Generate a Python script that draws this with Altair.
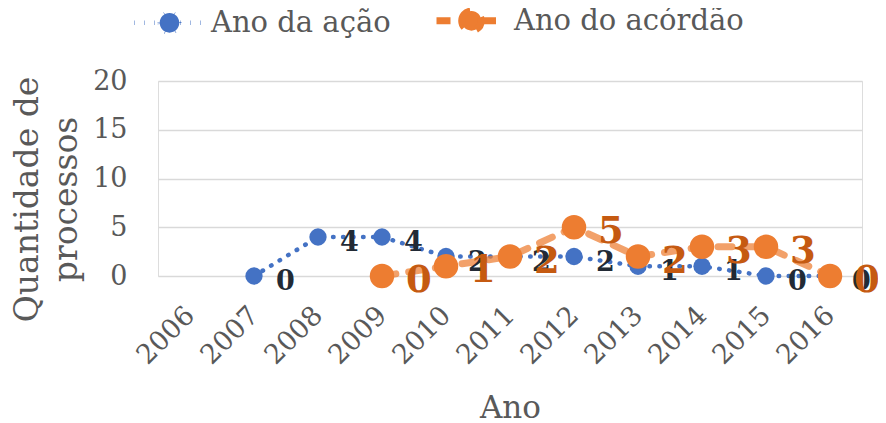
import altair as alt
import pandas as pd

# ---- data ----
anos = ["2006", "2007", "2008", "2009", "2010", "2011", "2012", "2013", "2014", "2015", "2016"]
serie_nomes = ["Ano da ação", "Ano do acórdão"]
ano_da_acao = [None, 0, 4, 4, 2, 2, 2, 1, 1, 0, 0]
ano_do_acordao = [None, None, None, 0, 1, 2, 5, 2, 3, 3, 0]
y_ticks = [0, 5, 10, 15, 20]

rows = []
for nome, vals in zip(serie_nomes, [ano_da_acao, ano_do_acordao]):
    for a, v in zip(anos, vals):
        if v is not None:
            rows.append({"ano": a, "serie": nome, "valor": v})
df = pd.DataFrame(rows)

FONT = "DejaVu Serif"
GREY = "#595959"
LEG_PATH = ("M-1,0L-0.3,0M0.3,0L1,0"
            "M-0.28,0A0.28,0.28,0,1,1,0.28,0A0.28,0.28,0,1,1,-0.28,0Z")

leg = alt.Legend(
    title=None, orient="none", legendX=-26, legendY=-99, direction="horizontal",
    symbolType=LEG_PATH, symbolSize=4900, symbolStrokeWidth=4.5,
    labelFont=FONT, labelFontSize=29, labelColor=GREY, labelOffset=4, labelLimit=400,
    columnPadding=31, padding=0,
)

x = alt.X(
    "ano:O",
    scale=alt.Scale(domain=anos, type="point", padding=0.5),
    axis=alt.Axis(
        title="Ano", labelAngle=-45, labelAlign="right", labelBaseline="middle",
        labelFont=FONT, labelFontSize=27, labelColor=GREY, labelPadding=35,
        ticks=False, domain=False, grid=False,
        titleFont=FONT, titleFontSize=31, titleColor=GREY, titleFontWeight="normal",
        titleX=352, titleY=141, titleBaseline="alphabetic",
    ),
)
y = alt.Y(
    "valor:Q",
    scale=alt.Scale(domain=[0, 20]),
    axis=alt.Axis(
        title=["Quantidade de", "processos"], values=y_ticks,
        labelFont=FONT, labelFontSize=27, labelColor=GREY, labelPadding=31,
        ticks=False, domain=False, grid=True, gridColor="#D9D9D9", gridWidth=1.5,
        titleFont=FONT, titleFontSize=33, titleColor=GREY, titleFontWeight="normal",
        titleAngle=-90, titleX=-147, titleY=118, titleAlign="center",
        titleBaseline="top", titleLineHeight=39,
    ),
)

lines = alt.Chart(df).mark_line(strokeCap="round", strokeJoin="round").encode(
    x=x, y=y,
    stroke=alt.Stroke("serie:N", scale=alt.Scale(domain=serie_nomes, range=["#4472C4", "#ED7D31"]), legend=leg),
    strokeDash=alt.StrokeDash("serie:N", scale=alt.Scale(domain=serie_nomes, range=[[0.5, 9.5], [14, 13]]), legend=leg),
    strokeOpacity=alt.StrokeOpacity("serie:N", scale=alt.Scale(domain=serie_nomes, range=[1, 0.72]), legend=leg),
    strokeWidth=alt.StrokeWidth("serie:N", scale=alt.Scale(domain=serie_nomes, range=[4.5, 7]), legend=None),
)

fill_enc = alt.Fill("serie:N", scale=alt.Scale(domain=serie_nomes, range=["#4472C4", "#ED7D31"]), legend=leg)

pts_acao = alt.Chart(df).transform_filter(alt.datum.serie == serie_nomes[0]).mark_circle(
    opacity=1, size=300).encode(x=x, y=y, fill=fill_enc)
pts_acordao = alt.Chart(df).transform_filter(alt.datum.serie == serie_nomes[1]).mark_circle(
    opacity=1, size=600).encode(x=x, y=y, fill=fill_enc)

lab_acao = alt.Chart(df).transform_filter(alt.datum.serie == serie_nomes[0]).mark_text(
    align="left", baseline="middle", dx=22, dy=6, font=FONT, fontWeight="bold",
    fontSize=27, color="#222A35",
).encode(x=x, y=y, text="valor:Q")

lab_acordao = alt.Chart(df).transform_filter(alt.datum.serie == serie_nomes[1]).mark_text(
    align="left", baseline="middle", dx=24, dy=5, font=FONT, fontWeight="bold",
    fontSize=37, color="#C55A11",
).encode(x=x, y=y, text="valor:Q")

chart = alt.layer(lines, pts_acao, pts_acordao, lab_acao, lab_acordao).properties(
    width=704, height=195,
    autosize=alt.AutoSizeParams(type="none"),
    padding={"left": 150, "top": 73, "right": 16, "bottom": 147},
).configure_view(stroke=None).configure(background="white")

chart.save("out.html", embed_options={"renderer": "svg", "actions": False})
